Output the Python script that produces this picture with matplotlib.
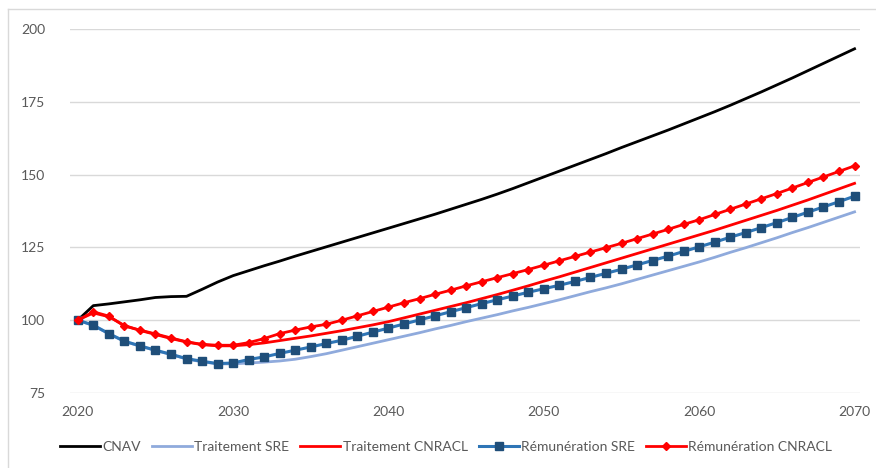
import matplotlib.pyplot as plt
from matplotlib.lines import Line2D

years = list(range(2020, 2071))

cnav = [100, 105, 105.6, 106.3, 107, 107.8, 108.1, 108.2, 110.6, 113.1,
        115.3, 117.0, 118.7, 120.3, 122.0, 123.6, 125.2, 126.8, 128.4, 130.0,
        131.6, 133.2, 134.8, 136.4, 138.1, 139.8, 141.5, 143.3, 145.2, 147.2,
        149.2, 151.2, 153.2, 155.2, 157.2, 159.3, 161.3, 163.3, 165.3, 167.4,
        169.5, 171.6, 173.8, 176.1, 178.4, 180.8, 183.2, 185.7, 188.2, 190.7, 193.2]

traitement_sre = [100, 98.2, 95.3, 92.7, 91.1, 89.6, 88.2, 86.7, 85.7, 85.0,
                  85.0, 85.3, 85.6, 86.0, 86.6, 87.5, 88.5, 89.7, 90.9, 92.1,
                  93.3, 94.5, 95.7, 97.0, 98.2, 99.5, 100.7, 101.9, 103.2, 104.4,
                  105.7, 107.0, 108.4, 109.8, 111.1, 112.5, 114.0, 115.5, 117.0, 118.5,
                  120.0, 121.6, 123.3, 124.9, 126.6, 128.3, 130.1, 131.8, 133.6, 135.4, 137.2]

traitement_cnracl = [100, 102.5, 101.2, 98.2, 96.5, 95.1, 93.7, 92.5, 91.6, 91.2,
                     91.2, 91.6, 92.2, 93.0, 93.8, 94.6, 95.5, 96.4, 97.4, 98.4,
                     99.5, 100.8, 102.1, 103.4, 104.7, 106.0, 107.4, 108.8, 110.3, 111.8,
                     113.4, 114.9, 116.5, 118.1, 119.7, 121.3, 122.9, 124.5, 126.1, 127.7,
                     129.3, 130.9, 132.6, 134.3, 136.0, 137.7, 139.5, 141.3, 143.2, 145.1, 147.0]

remun_sre = [100, 98.3, 95.4, 92.8, 91.2, 89.7, 88.3, 86.8, 85.9, 85.1,
             85.3, 86.5, 87.4, 88.6, 89.7, 90.8, 92.0, 93.1, 94.5, 95.9,
             97.3, 98.7, 100.1, 101.5, 102.9, 104.3, 105.7, 107.0, 108.3, 109.6,
             110.8, 112.0, 113.3, 114.7, 116.1, 117.5, 119.0, 120.5, 122.0, 123.6,
             125.2, 126.8, 128.5, 130.1, 131.8, 133.5, 135.3, 137.1, 138.9, 140.7, 142.6]

remun_cnracl = [100, 102.9, 101.4, 98.0, 96.6, 95.3, 93.9, 92.6, 91.7, 91.4,
                91.4, 92.3, 93.7, 95.4, 96.6, 97.7, 98.6, 100.0, 101.5, 103.0,
                104.5, 106.0, 107.4, 108.9, 110.3, 111.8, 113.2, 114.6, 116.0, 117.4,
                118.9, 120.4, 121.9, 123.4, 124.9, 126.4, 128.0, 129.6, 131.2, 132.9,
                134.5, 136.3, 138.1, 139.9, 141.7, 143.5, 145.4, 147.3, 149.2, 151.1, 153.0]

plt.rcParams['font.family'] = ['Lato', 'DejaVu Sans']

fig = plt.figure(figsize=(8.76, 4.68), dpi=100)
ax = fig.add_axes([70 / 876, 1 - 393 / 468, 790 / 876, 364 / 468])

ax.plot(years, cnav, color='black', lw=2.0, label='CNAV')
ax.plot(years, traitement_sre, color='#8FAADC', lw=2.0, label='Traitement SRE')
ax.plot(years, traitement_cnracl, color='#FF0000', lw=2.0, label='Traitement CNRACL')
ax.plot(years, remun_sre, color='#2E75B6', lw=2.2, marker='s', ms=5.5,
        mfc='#1F4E79', mec='#1F4E79', label='Rémunération SRE')
ax.plot(years, remun_cnracl, color='#FF0000', lw=2.0, marker='D', ms=4.5,
        mfc='#FF0000', mec='#FF0000', label='Rémunération CNRACL')

ax.set_xlim(2019.5, 2070.35)
ax.set_ylim(75, 200)
ax.set_yticks([75, 100, 125, 150, 175, 200])
ax.set_xticks([2020, 2030, 2040, 2050, 2060, 2070])
ax.grid(axis='y', color='#D9D9D9', lw=1)
ax.set_axisbelow(True)
for s in ax.spines.values():
    s.set_visible(False)
ax.tick_params(axis='both', length=0, labelsize=10, labelcolor='#595959')
ax.tick_params(axis='y', pad=18)
ax.tick_params(axis='x', pad=9)

fig.legend(loc='center', bbox_to_anchor=(446 / 876, 1 - 447 / 468), ncol=5,
           frameon=False, fontsize=10, handlelength=2.9, handletextpad=0.15,
           columnspacing=0.8, labelcolor='#595959')

# light frame around the chart
fig.add_artist(Line2D([8 / 876, 8 / 876], [0, 1 - 9 / 468], color='#D9D9D9', lw=1))
fig.add_artist(Line2D([8 / 876, 1], [1 - 9 / 468, 1 - 9 / 468], color='#D9D9D9', lw=1))

fig.savefig('out.png', dpi=100)
